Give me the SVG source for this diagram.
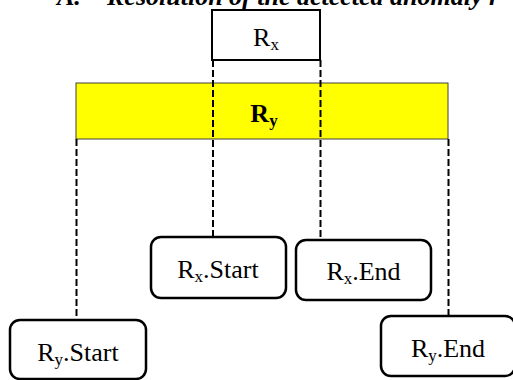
<svg xmlns="http://www.w3.org/2000/svg" width="513" height="380" viewBox="0 0 513 380">
<style>
text{font-family:"Liberation Serif","Times New Roman",serif;fill:#000}
.lbl{font-size:26px;text-anchor:middle}
.sub{font-size:17px}
.title{font-size:26px;font-weight:bold;font-style:italic}
.rbox{fill:#fff;stroke:#000;stroke-width:2.5}
.dash{stroke:#000;stroke-width:2;stroke-dasharray:7 3;fill:none}
</style>
<rect width="513" height="380" fill="#fff"/>
<text class="title" x="57" y="5">A.<tspan x="107">Resolution of the detected anomaly r</tspan></text>
<g id="Ry">
<rect x="76" y="83" width="372" height="56" fill="#ffff00" stroke="#404040" stroke-width="1"/>
<text class="lbl" x="264" y="122" font-weight="bold">R<tspan class="sub" dy="4">y</tspan></text>
</g>
<g id="Rx">
<rect x="212" y="10" width="108" height="50" fill="#fff" stroke="#000" stroke-width="2"/>
<text class="lbl" x="266" y="46">R<tspan class="sub" dy="4">x</tspan></text>
</g>
<g id="connectors">
<line class="dash" x1="76.5" y1="139" x2="76.5" y2="320"/>
<line class="dash" x1="213" y1="60" x2="213" y2="237"/>
<line class="dash" x1="320.5" y1="60" x2="320.5" y2="240"/>
<line class="dash" x1="448.5" y1="139" x2="448.5" y2="316"/>
</g>
<g id="RxStart">
<rect class="rbox" x="151" y="237" width="135" height="61" rx="10"/>
<text class="lbl" x="218" y="278">R<tspan class="sub" dy="4">x</tspan><tspan dy="-4">.Start</tspan></text>
</g>
<g id="RxEnd">
<rect class="rbox" x="296" y="240" width="135" height="60" rx="10"/>
<text class="lbl" x="363.5" y="280">R<tspan class="sub" dy="4">x</tspan><tspan dy="-4">.End</tspan></text>
</g>
<g id="RyStart">
<rect class="rbox" x="10" y="320" width="136" height="59" rx="10"/>
<text class="lbl" x="78" y="361">R<tspan class="sub" dy="4">y</tspan><tspan dy="-4">.Start</tspan></text>
</g>
<g id="RyEnd">
<rect class="rbox" x="381" y="316" width="134" height="60" rx="10"/>
<text class="lbl" x="448" y="357">R<tspan class="sub" dy="4">y</tspan><tspan dy="-4">.End</tspan></text>
</g>
</svg>
